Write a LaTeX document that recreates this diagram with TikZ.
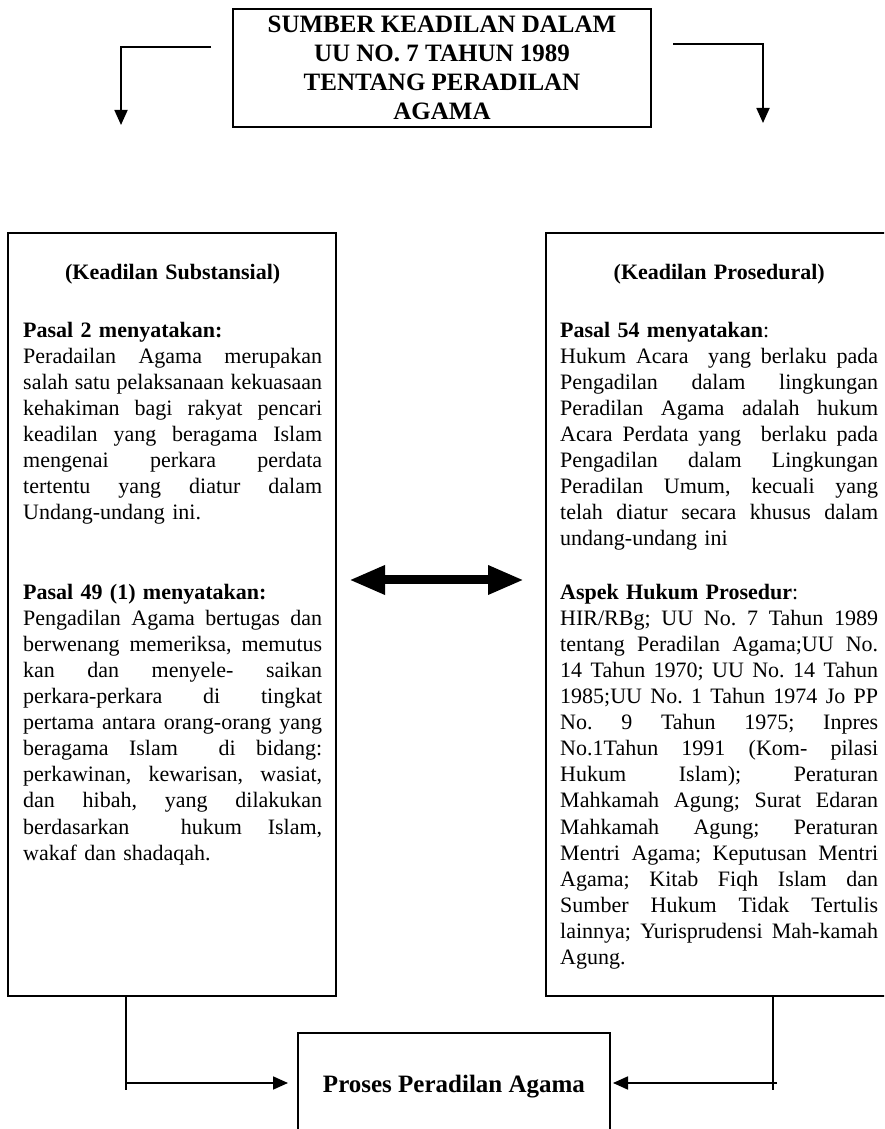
\documentclass[tikz,border=0pt]{standalone}
\usepackage{fontspec}
\setmainfont{Liberation Serif}
\usetikzlibrary{arrows.meta, positioning}
\newlength{\kolw}
\newcommand{\jl}[1]{\makebox[\kolw][s]{\spaceskip=0pt\xspaceskip=0pt #1}}
\frenchspacing

\begin{document}
\begin{tikzpicture}[
    x=1pt, y=1pt,
    sumberbox/.style={rectangle, draw=black, line width=2.6pt, minimum width=418pt, minimum height=118pt, inner sep=0pt, outer sep=0pt, align=center, font=\fontsize{25}{29}\selectfont\bfseries},
    kolom/.style={rectangle, draw=black, line width=2.6pt, minimum height=763pt, inner sep=0pt, outer sep=0pt},
    isi/.style={inner sep=0pt, align=left, text width=#1, execute at begin node={\setlength{\kolw}{#1}}, font=\fontsize{22}{26.1}\selectfont},
    prosesbox/.style={rectangle, draw=black, line width=2.6pt, minimum width=312pt, minimum height=108pt, inner sep=0pt, outer sep=0pt, font=\fontsize{25}{29}\selectfont\bfseries},
    garis/.style={line width=1.8pt},
    arrow/.style={garis, -{Triangle[length=15pt,width=13pt]}},
    duaarah/.style={line width=9pt, {Triangle[length=36pt,width=27pt]}-{Triangle[length=36pt,width=27pt]}}
]
\useasboundingbox (0,0) rectangle (884,1129);
\clip (0,0) rectangle (884,1129);

% judul
\node[sumberbox] (judul) at (442,1061) {SUMBER KEADILAN DALAM\\ UU NO. 7 TAHUN 1989\\ TENTANG PERADILAN\\ AGAMA};

% dua kolom
\node[kolom, minimum width=328pt] (substansial) at (172,514.5) {};
\node[kolom, minimum width=354pt] (prosedural) at (723,514.5) {};

% isi kolom kiri
\node[isi=299pt, below right=27.7pt and 15pt of substansial.north west] (isikiri) {%
\makebox[\kolw]{\strut\textbf{(Keadilan Substansial)}}\\[31.9pt]
\textbf{Pasal 2 menyatakan:}\\
\jl{Peradailan Agama merupakan}\\
\jl{salah satu pelaksanaan kekuasaan}\\
\jl{kehakiman bagi rakyat pencari}\\
\jl{keadilan yang beragama Islam}\\
\jl{mengenai perkara perdata}\\
\jl{tertentu yang diatur dalam}\\
Undang-undang ini.\\[53.2pt]
\textbf{Pasal 49 (1) menyatakan:}\\
\jl{Pengadilan Agama bertugas dan}\\
\jl{berwenang memeriksa, memutus}\\
\jl{kan dan menyele- saikan}\\
\jl{perkara-perkara di tingkat}\\
\jl{pertama antara orang-orang yang}\\
\jl{beragama Islam\ \ di bidang:}\\
\jl{perkawinan, kewarisan, wasiat,}\\
\jl{dan hibah, yang dilakukan}\\
\jl{berdasarkan\ \ hukum Islam,}\\
wakaf dan shadaqah.};

% isi kolom kanan
\node[isi=318pt, below right=27.7pt and 14pt of prosedural.north west] (isikanan) {%
\makebox[\kolw]{\strut\textbf{(Keadilan Prosedural)}}\\[31.9pt]
\textbf{Pasal 54 menyatakan}:\\
\jl{Hukum Acara\ \ yang berlaku pada}\\
\jl{Pengadilan dalam lingkungan}\\
\jl{Peradilan Agama adalah hukum}\\
\jl{Acara Perdata yang\ \ berlaku pada}\\
\jl{Pengadilan dalam Lingkungan}\\
\jl{Peradilan Umum, kecuali yang}\\
\jl{telah diatur secara khusus dalam}\\
undang-undang ini\\[27.1pt]
\textbf{Aspek Hukum Prosedur}:\\
\jl{HIR/RBg; UU No. 7 Tahun 1989}\\
\jl{tentang Peradilan Agama;UU No.}\\
\jl{14 Tahun 1970; UU No. 14 Tahun}\\
\jl{1985;UU No. 1 Tahun 1974 Jo PP}\\
\jl{No. 9 Tahun 1975; Inpres}\\
\jl{No.1Tahun 1991 (Kom- pilasi}\\
\jl{Hukum Islam); Peraturan}\\
\jl{Mahkamah Agung; Surat Edaran}\\
\jl{Mahkamah Agung; Peraturan}\\
\jl{Mentri Agama; Keputusan Mentri}\\
\jl{Agama; Kitab Fiqh Islam dan}\\
\jl{Sumber Hukum Tidak Tertulis}\\
\jl{lainnya; Yurisprudensi Mah-kamah}\\
Agung.};

% proses
\node[prosesbox] (proses) at (454,42) {Proses Peradilan Agama};

% panah dari judul
\coordinate (kiri1) at ([xshift=-22pt,yshift=21pt]judul.west);
\coordinate (kiri2) at (121,1004);
\coordinate (kanan1) at ([xshift=22pt,yshift=24pt]judul.east);
\coordinate (kanan2) at (763,1006);
\draw[arrow] (kiri1) -| (kiri2);
\draw[arrow] (kanan1) -| (kanan2);

% panah dua arah
\coordinate (tengah) at (0,549);
\draw[duaarah, shorten <=13pt, shorten >=22pt] (substansial.east |- tengah) -- (prosedural.west |- tengah);

% panah ke proses
\coordinate (kirib) at (126,39);
\coordinate (kananb) at (773,39);
\coordinate (kiria) at (126,46);
\coordinate (kanana) at (777,46);
\draw[garis] (substansial.south -| kirib) -- (kirib);
\draw[garis] (prosedural.south -| kananb) -- (kananb);
\draw[arrow, shorten >=10pt] (kiria) -- (proses.west |- kiria);
\draw[arrow, shorten >=3pt] (kanana) -- (proses.east |- kanana);
\end{tikzpicture}
\end{document}
